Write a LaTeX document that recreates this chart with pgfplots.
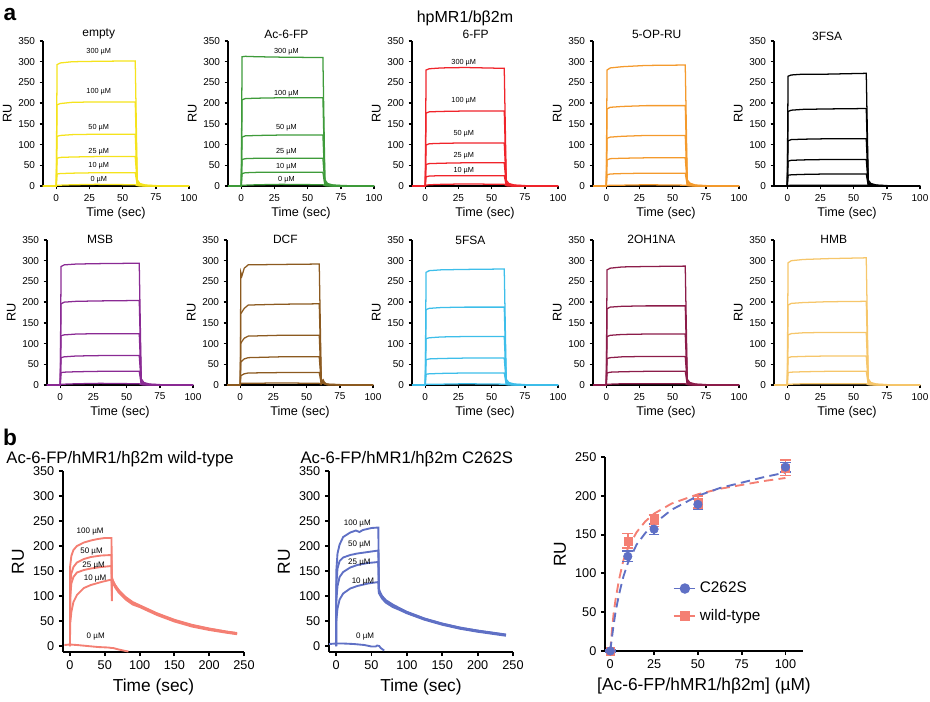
\documentclass[border=0pt]{standalone}
\usepackage{pgfplots}
\pgfplotsset{compat=1.18}
\usepackage{pgfplotstable}
\usepackage{fontspec}
\setmainfont{Liberation Sans}

\definecolor{cEmpty}{HTML}{F5E31C}
\definecolor{cAc}{HTML}{3E9B3A}
\definecolor{cSixFP}{HTML}{F0242B}
\definecolor{cOPRU}{HTML}{F49A2C}
\definecolor{cMSB}{HTML}{8A2A94}
\definecolor{cDCF}{HTML}{8C5A20}
\definecolor{cFFSA}{HTML}{3DBEEA}
\definecolor{cOHNA}{HTML}{8C1C4A}
\definecolor{cHMB}{HTML}{F6C66A}
\definecolor{cWT}{HTML}{F47F73}
\definecolor{cMut}{HTML}{5F70C5}

\newcommand{\fs}[1]{\fontsize{#1}{#1}\selectfont}

% sensorgram tables: time, then one column per concentration
\pgfplotstableread{
t c300 c100 c50 c25 c10 c0
-10 0 0 0 0 0 0
0 0 0 0 0 0 0
0.6 293 196 120 67 29 2
3 297 199 122 69 30 2
12 300 202 124 70 31 3
30 301 203 125 71 32 4
59.5 302 203 125 71 32 3
61 15 10 6 4 2 1
63 6 4 2.5 1.4 0.6 0.5
67 2.4 1.6 1 0.6 0.3 0
75 0.9 0.6 0.4 0.2 0.1 0
100 0 0 0 0 0 0
}\tabEmpty
\pgfplotstableread{
t c300 c100 c50 c25 c10 c0
-10 0 0 0 0 0 0
0 0 0 0 0 0 0
0.6 312 208 118 64 30 2
3 313 211 121 66 32 2
12 312 212 122 67 33 3
30 311 213 123 67 33 4
61.5 310 213 123 67 33 3
63 15 10 6 3.5 1.6 1
65 6 4 2.5 1.4 0.6 0.5
69 2.5 1.6 1 0.6 0.3 0
77 1 0.6 0.4 0.2 0.1 0
100 0 0 0 0 0 0
}\tabAc
\pgfplotstableread{
t c300 c100 c50 c25 c10 c0
-10 0 0 0 0 0 0
0 0 0 0 0 0 0
0.6 280 176 99 52 22 2
3 283 179 102 54 24 3
12 285 180 103 55 25 4
30 286 181 104 56 25 5
59.5 284 181 104 56 25 4
61 14 9 5 3 1.3 1
63 6 4 2 1.2 0.5 0.5
67 2.4 1.6 1 0.5 0.2 0
75 0.9 0.6 0.4 0.2 0.1 0
100 0 0 0 0 0 0
}\tabSixFP
\pgfplotstableread{
t c300 c100 c50 c25 c10 c0
-10 0 0 0 0 0 0
0 0 0 0 0 0 0
0.6 280 186 115 63 27 1
3 285 190 118 66 29 2
12 288 192 120 67 30 2
30 291 194 122 68 31 3
59.5 292 194 122 68 31 2
61 15 10 6 3.5 1.6 1
63 7 5 3 1.6 0.8 0.5
67 2.4 1.6 1 0.6 0.3 0
75 0.9 0.6 0.4 0.2 0.1 0
100 0 0 0 0 0 0
}\tabOPRU
\pgfplotstableread{
t c300 c100 c50 c25 c10 c0
-10 0 0 0 0 0 0
0 0 0 0 0 0 0
0.6 265 180 109 60 26 1
3 268 183 112 62 27 2
12 270 185 113 63 28 2
30 270 186 114 64 29 2
59.5 272 187 114 64 29 2
61 14 9 6 3.2 1.5 1
63 6 4 2.5 1.3 0.6 0.5
67 2.4 1.6 1 0.5 0.3 0
75 0.9 0.6 0.4 0.2 0.1 0
100 0 0 0 0 0 0
}\tabTFSA
\pgfplotstableread{
t c300 c100 c50 c25 c10 c0
-10 0 0 0 0 0 0
0 0 0 0 0 0 0
0.6 286 196 119 66 30 2
3 290 200 121 68 31 2
12 292 202 123 70 32 3
30 293 203 124 71 33 4
59.5 294 204 124 71 33 3
61 15 10 6 3.5 1.6 1
63 6 4 2.5 1.4 0.6 0.5
67 2.4 1.6 1 0.6 0.3 0
75 0.9 0.6 0.4 0.2 0.1 0
100 0 0 0 0 0 0
}\tabMSB
\pgfplotstableread{
t c300 c100 c50 c25 c10 c0
-10 0 0 0 0 0 0
0 0 0 0 0 0 0
0.4 272 172 100 55 22 4
1.2 263 176 105 58 24 4
3 282 185 113 63 27 4
6 290 193 118 66 29 4
30 291 195 120 68 30 5
59.5 292 196 120 68 30 4
61 15 10 6 4 3 2
62.5 8 6 5 4 12 10
63.5 6 4 3 3 5 4
65 2.4 1.6 1 1 1 1
75 0.9 0.6 0.4 0.2 0.1 0
100 0 0 0 0 0 0
}\tabDCF
\pgfplotstableread{
t c300 c100 c50 c25 c10 c0
-10 0 0 0 0 0 0
0 0 0 0 0 0 0
0.6 272 182 112 61 26 2
3 276 185 114 63 27 2
12 278 187 116 64 28 2
30 279 188 117 65 29 3
59.5 280 188 117 65 29 2
61 14 9 6 3.3 1.5 1
63 6 4 2.5 1.3 0.6 0.5
67 2.4 1.6 1 0.5 0.3 0
75 0.9 0.6 0.4 0.2 0.1 0
100 0 0 0 0 0 0
}\tabFFSA
\pgfplotstableread{
t c300 c100 c50 c25 c10 c0
-10 0 0 0 0 0 0
0 0 0 0 0 0 0
0.6 278 184 117 64 29 2
3 282 188 120 66 31 2
12 285 190 122 68 32 3
30 286 191 123 69 33 3
59.5 287 191 123 69 33 3
61 14 10 6 3.5 1.6 1
63 6 4 2.5 1.4 0.6 0.5
67 2.4 1.6 1 0.6 0.3 0
75 0.9 0.6 0.4 0.2 0.1 0
100 0 0 0 0 0 0
}\tabOHNA
\pgfplotstableread{
t c300 c100 c50 c25 c10 c0
-10 0 0 0 0 0 0
0 0 0 0 0 0 0
0.6 295 193 121 66 30 2
3 300 197 124 68 31 2
12 303 199 126 69 32 3
30 305 201 127 70 33 3
59.5 307 202 127 70 33 3
61 15 10 6 3.5 1.6 1
63 6 4 2.5 1.4 0.6 0.5
67 2.4 1.6 1 0.6 0.3 0
75 0.9 0.6 0.4 0.2 0.1 0
100 0 0 0 0 0 0
}\tabHMB

\tikzset{
  conc/.style={font=\fs{5.5}, inner sep=0.5pt},
  concb/.style={font=\fs{6}, inner sep=0.5pt},
}
\pgfplotsset{
  gp/.style={scale only axis, axis x line*=bottom, axis y line*=left,
    tick align=outside, clip=false,
    /pgf/number format/assume math mode=true,
    xlabel={Time (sec)}, ylabel={RU}},
  rowa/.style={gp, width=109.5pt, height=108.75pt,
    xmin=-10, xmax=100, ymin=0, ymax=350,
    xtick={0,25,50,75,100}, ytick={0,50,...,350},
    major tick length=2.5pt,
    axis line style={line width=1.1pt},
    every tick/.append style={line width=1.1pt, black},
    tick label style={font=\fs{7.5}},
    label style={font=\fs{9.5}},
    xlabel style={yshift=2pt}, ylabel style={yshift=-2pt}},
  rowb/.style={gp, height=135.75pt,
    xmin=-10, xmax=250, ymin=-12, ymax=350,
    xtick={0,50,...,250}, ytick={0,50,...,350},
    major tick length=3pt,
    axis line style={line width=1.4pt},
    every tick/.append style={line width=1.4pt, black},
    tick label style={font=\fs{9.5}},
    label style={font=\fs{13}}},
}

% six concentration curves of one panel
\newcommand{\six}[2]{%
  \pgfplotsinvokeforeach{c300,c100,c50,c25,c10,c0}{%
    \addplot[#2, line width=0.95pt] table[x=t, y=##1] {#1};}}

\begin{document}
\begin{tikzpicture}
\useasboundingbox (0,0) rectangle (697.5pt,525.75pt);

\node[font=\bfseries\fs{17}] at (7.5pt,514.5pt) {a};
\node[font=\bfseries\fs{17}] at (7.5pt,198pt) {b};
\node[font=\fs{12}] at (348.75pt,512.25pt) {hpMR1/bβ2m};

% ---- row a, top ----
\begin{axis}[rowa, at={(32.25pt,386.25pt)}, anchor=south west]
\six{\tabEmpty}{cEmpty}
\node[font=\fs{9}] at (axis cs:32,367) {empty};
\node[conc] at (axis cs:32,324) {300 µM};
\node[conc] at (axis cs:32,228) {100 µM};
\node[conc] at (axis cs:32,141) {50 µM};
\node[conc] at (axis cs:32,83) {25 µM};
\node[conc] at (axis cs:32,48) {10 µM};
\node[conc] at (axis cs:32,14) {0 µM};
\end{axis}

\begin{axis}[rowa, at={(171pt,386.25pt)}, anchor=south west]
\six{\tabAc}{cAc}
\node[font=\fs{9}] at (axis cs:34,367) {Ac-6-FP};
\node[conc] at (axis cs:34,325) {300 µM};
\node[conc] at (axis cs:34,224) {100 µM};
\node[conc] at (axis cs:34,140) {50 µM};
\node[conc] at (axis cs:34,84) {25 µM};
\node[conc] at (axis cs:34,47) {10 µM};
\node[conc] at (axis cs:34,14) {0 µM};
\end{axis}

\begin{axis}[rowa, at={(309pt,386.25pt)}, anchor=south west]
\six{\tabSixFP}{cSixFP}
\node[font=\fs{9}] at (axis cs:38,365) {6-FP};
\node[conc] at (axis cs:29,297) {300 µM};
\node[conc] at (axis cs:29,205) {100 µM};
\node[conc] at (axis cs:29,127) {50 µM};
\node[conc] at (axis cs:29,74) {25 µM};
\node[conc] at (axis cs:29,38) {10 µM};
\end{axis}

\begin{axis}[rowa, at={(444.75pt,386.25pt)}, anchor=south west]
\six{\tabOPRU}{cOPRU}
\node[font=\fs{9}] at (axis cs:38,365) {5-OP-RU};
\end{axis}

\begin{axis}[rowa, at={(580.5pt,386.25pt)}, anchor=south west]
\six{\tabTFSA}{black}
\node[font=\fs{9}] at (axis cs:30,362) {3FSA};
\end{axis}

% ---- row a, bottom ----
\begin{axis}[rowa, at={(35.25pt,237pt)}, anchor=south west]
\six{\tabMSB}{cMSB}
\node[font=\fs{9}] at (axis cs:30,352) {MSB};
\end{axis}

\begin{axis}[rowa, at={(170.25pt,237pt)}, anchor=south west]
\six{\tabDCF}{cDCF}
\node[font=\fs{9}] at (axis cs:34,352) {DCF};
\end{axis}

\begin{axis}[rowa, at={(309pt,237pt)}, anchor=south west]
\six{\tabFFSA}{cFFSA}
\node[font=\fs{9}] at (axis cs:34,350) {5FSA};
\end{axis}

\begin{axis}[rowa, at={(444.75pt,237pt)}, anchor=south west]
\six{\tabOHNA}{cOHNA}
\node[font=\fs{9}] at (axis cs:34,352) {2OH1NA};
\end{axis}

\begin{axis}[rowa, at={(580.5pt,237pt)}, anchor=south west]
\six{\tabHMB}{cHMB}
\node[font=\fs{9}] at (axis cs:35,352) {HMB};
\end{axis}

% ---- row b: wild-type sensorgram ----
\begin{axis}[rowb, width=135.75pt, at={(47.25pt,36.75pt)}, anchor=south west]
\addplot[cWT, line width=1.4pt] coordinates {
  (0,0) (0.3,160) (2,180) (5,192) (10,200) (20,207) (30,211) (40,214) (50,216) (59.7,216)
  (60.2,90) (60.6,136) (62,130) (65,122) (70,112) (80,98) (90,88) (100,81.5)
  (125,65.5) (150,52.5) (175,42.5) (200,35) (225,29) (240,26)};
\addplot[cWT, line width=1.4pt] coordinates {
  (0,0) (0.3,120) (2,145) (5,158) (10,167) (20,174) (30,178) (45,181) (59.7,182)
  (60.2,100) (60.6,133) (62,129) (65,121) (70,111) (80,97) (90,87) (100,80.5)
  (125,64.5) (150,51.5) (175,41.5) (200,34.5) (225,28.5) (240,25.5)};
\addplot[cWT, line width=1.4pt] coordinates {
  (0,0) (0.3,95) (2,125) (5,138) (10,147) (20,152) (30,155) (45,158) (59.7,160)
  (60.2,110) (60.6,131) (62,127) (65,119) (70,109) (80,95) (90,85) (100,79.5)
  (125,63.5) (150,50.5) (175,40.5) (200,33.5) (225,27.5) (240,24.5)};
\addplot[cWT, line width=1.4pt] coordinates {
  (0,0) (0.3,45) (2,68) (5,88) (10,102) (20,116) (30,122) (45,128) (59.7,133)
  (60.2,120) (60.6,129) (62,125) (65,117) (70,107) (80,93) (90,83) (100,78)
  (125,62) (150,49) (175,39) (200,32) (225,26.5) (240,23.5)};
\addplot[cWT, line width=1.4pt] coordinates {
  (-8,2) (0,3) (10,2) (25,0) (40,-2) (55,-3) (60,-4) (62,-4) (70,-7) (80,-10) (84,-11)};
\node[concb] at (axis cs:29,228) {100 µM};
\node[concb] at (axis cs:31,188) {50 µM};
\node[concb] at (axis cs:34,160) {25 µM};
\node[concb] at (axis cs:36,135) {10 µM};
\node[concb] at (axis cs:37,18) {0 µM};
\node[font=\fs{12.5}] at (axis cs:72,374) {Ac-6-FP/hMR1/hβ2m wild-type};
\end{axis}

% ---- row b: C262S sensorgram ----
\begin{axis}[rowb, width=138pt, at={(246.75pt,36.75pt)}, anchor=south west]
\addplot[cMut, line width=1.4pt] coordinates {
  (0,0) (0.3,150) (2,185) (5,203) (10,218) (20,227) (28,231) (33,228) (38,232) (50,236) (59.7,237)
  (60.5,115) (62,108) (65,100) (70,92) (80,83) (90,75.5) (100,68.5)
  (125,55) (150,45) (175,37) (200,31) (225,26) (240,23)};
\addplot[cMut, line width=1.4pt] coordinates {
  (0,0) (0.3,120) (2,155) (5,170) (10,177) (20,182) (30,185) (45,188) (59.7,191)
  (60.5,112) (62,106) (65,99) (70,91) (80,82) (90,74.5) (100,67.5)
  (125,54.5) (150,44.5) (175,36.5) (200,30.5) (225,25.5) (240,22.5)};
\addplot[cMut, line width=1.4pt] coordinates {
  (0,0) (0.3,90) (2,120) (5,138) (10,148) (20,157) (30,162) (45,166) (59.7,168)
  (60.5,109) (62,104) (65,97) (70,89) (80,80) (90,73.5) (100,66.5)
  (125,53.5) (150,43.5) (175,35.5) (200,29.5) (225,24.5) (240,21.5)};
\addplot[cMut, line width=1.4pt] coordinates {
  (0,0) (0.3,50) (2,75) (5,93) (10,105) (20,115) (30,120) (45,125) (59.7,128)
  (60.5,106) (62,102) (65,95) (70,87) (80,78) (90,72) (100,65.5)
  (125,52.5) (150,42.5) (175,34.5) (200,28.5) (225,23.5) (240,20.5)};
\addplot[cMut, line width=1.4pt] coordinates {
  (-10,4) (0,5) (10,5) (25,4) (40,2) (50,-1) (56,-1) (58,1) (61,0) (63,-4) (66,-7) (68,-9)};
\node[concb] at (axis cs:30,244) {100 µM};
\node[concb] at (axis cs:33,202) {50 µM};
\node[concb] at (axis cs:33,167) {25 µM};
\node[concb] at (axis cs:38,129) {10 µM};
\node[concb] at (axis cs:41,18) {0 µM};
\node[font=\fs{12.5}] at (axis cs:100,374) {Ac-6-FP/hMR1/hβ2m C262S};
\end{axis}

% ---- row b: binding curves ----
\begin{axis}[gp, width=148.5pt, height=145.5pt, at={(453.75pt,37.5pt)}, anchor=south west,
    xmin=-3, xmax=110, ymin=0, ymax=250,
    xtick={0,25,50,75,100}, ytick={0,50,...,250},
    major tick length=3pt,
    axis line style={line width=1.4pt},
    every tick/.append style={line width=1.4pt, black},
    tick label style={font=\fs{9.5}},
    label style={font=\fs{13}},
    xlabel={[Ac-6-FP/hMR1/hβ2m] (µM)},
    legend style={at={(0.34,0.37)}, anchor=north west, draw=none, fill=none,
      font=\fs{11.5}, row sep=7pt, inner sep=0pt},
    legend cell align=left]
\addlegendimage{cMut, line width=1.4pt, dash pattern=on 6pt off 4pt, mark=*, mark size=3.2pt, mark options={solid}}
\addlegendentry{C262S}
\addlegendimage{cWT, line width=1.4pt, dash pattern=on 6pt off 4pt, mark=square*, mark size=3pt, mark options={solid}}
\addlegendentry{wild-type}
\addplot[cWT, line width=1.4pt, dash pattern=on 7pt off 4pt, forget plot] coordinates {
  (0,0) (1,28) (2,50) (3,66) (5,92) (7.5,117) (10,132) (15,153) (20,167) (25,177)
  (35,190) (50,202) (62.5,209) (75,214) (87.5,219) (100,223)};
\addplot[cMut, line width=1.4pt, dash pattern=on 7pt off 4pt, forget plot] coordinates {
  (0,0) (1,18) (2,35) (3,50) (5,73) (7.5,96) (10,113) (15,137) (20,152) (25,164)
  (35,182) (50,200) (62.5,210) (75,217) (87.5,224) (100,230)};
\addplot[cWT, only marks, mark=square*, mark size=3pt, forget plot,
  error bars/.cd, y dir=both, y explicit,
  error bar style={line width=1.2pt}, error mark options={rotate=90, mark size=4pt, line width=1.2pt}]
  coordinates {(0,0) +- (0,1) (10,142) +- (0,9.5) (25,168) +- (0,7.5) (50,192) +- (0,8) (100,236) +- (0,10)};
\addplot[cMut, only marks, mark=*, mark size=3.2pt, forget plot,
  error bars/.cd, y dir=both, y explicit,
  error bar style={line width=1.2pt}, error mark options={rotate=90, mark size=4pt, line width=1.2pt}]
  coordinates {(0,0) +- (0,1) (10,122) +- (0,6.5) (25,157) +- (0,7) (50,189) +- (0,6.5) (100,237) +- (0,6)};
\end{axis}
\end{tikzpicture}
\end{document}
